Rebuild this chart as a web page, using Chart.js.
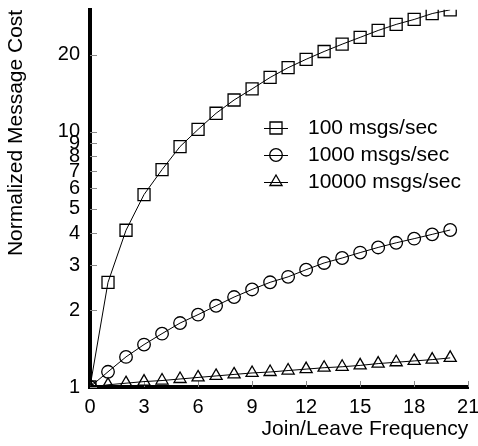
<!DOCTYPE html>
<html>
<head>
<meta charset="utf-8">
<script src="https://cdn.jsdelivr.net/npm/chart.js@4/dist/chart.umd.min.js"></script>
<style>
  html, body { margin: 0; padding: 0; background: #fff; }
  #wrap { width: 478px; height: 446px; }
</style>
</head>
<body>
<div id="wrap"><canvas id="costChart" width="478" height="446"></canvas></div>
<script>
const frequency = [0, 1, 2, 3, 4, 5, 6, 7, 8, 9, 10, 11, 12, 13, 14, 15, 16, 17, 18, 19, 20];
const cost100 = [1, 2.57, 4.11, 5.67, 7.1, 8.74, 10.2, 11.8, 13.3, 14.7, 16.3, 17.8, 19.2, 20.6, 22.0, 23.4, 24.9, 26.3, 27.5, 29.0, 30.0];
const cost1000 = [1, 1.147, 1.312, 1.466, 1.618, 1.78, 1.92, 2.08, 2.25, 2.41, 2.57, 2.70, 2.88, 3.06, 3.20, 3.36, 3.52, 3.67, 3.81, 3.96, 4.12];
const cost10000 = [1, 1.02, 1.035, 1.05, 1.06, 1.075, 1.09, 1.105, 1.12, 1.135, 1.145, 1.16, 1.175, 1.19, 1.2, 1.215, 1.235, 1.25, 1.265, 1.28, 1.3];
const seriesLabels = ["100 msgs/sec", "1000 msgs/sec", "10000 msgs/sec"];
const xTicks = [0, 3, 6, 9, 12, 15, 18, 21];
const yTicks = [1, 2, 3, 4, 5, 6, 7, 8, 9, 10, 20];

const FONT = "'Liberation Sans', Arial, sans-serif";

function pts(values) {
  return frequency.map((f, i) => ({ x: f, y: values[i] }));
}

function series(label, values, style, radius) {
  return {
    label,
    data: pts(values),
    borderColor: "#000",
    borderWidth: 1,
    backgroundColor: "rgba(0,0,0,0)",
    pointStyle: style,
    pointRadius: radius,
    pointBorderWidth: 1.3,
    pointBorderColor: "#000",
    pointBackgroundColor: "rgba(0,0,0,0)",
    tension: 0
  };
}

// inward tick marks like the original plot
const innerTicks = {
  id: "innerTicks",
  beforeDatasetsDraw(chart) {
    const { ctx, chartArea, scales } = chart;
    ctx.save();
    ctx.strokeStyle = "#888";
    ctx.lineWidth = 1;
    ctx.beginPath();
    yTicks.forEach(v => {
      const y = Math.round(scales.y.getPixelForValue(v)) + 0.5;
      ctx.moveTo(chartArea.left, y);
      ctx.lineTo(chartArea.left + 7, y);
    });
    xTicks.forEach(v => {
      const x = Math.round(scales.x.getPixelForValue(v)) + 0.5;
      ctx.moveTo(x, chartArea.bottom);
      ctx.lineTo(x, chartArea.bottom - 6);
    });
    ctx.stroke();
    ctx.restore();
  }
};

// legend drawn inside the plot
const innerLegend = {
  id: "innerLegend",
  afterDraw(chart) {
    const { ctx } = chart;
    ctx.save();
    ctx.font = "21px " + FONT;
    ctx.textBaseline = "middle";
    ctx.textAlign = "left";
    chart.data.datasets.forEach((ds, i) => {
      const y = 128 + i * 27;
      ctx.strokeStyle = "#000";
      ctx.lineWidth = 1;
      ctx.beginPath();
      ctx.moveTo(264, y + 0.5);
      ctx.lineTo(288, y + 0.5);
      ctx.stroke();
      ctx.lineWidth = 1.3;
      ctx.fillStyle = "rgba(0,0,0,0)";
      Chart.helpers.drawPoint(ctx, {
        pointStyle: ds.pointStyle,
        radius: ds.pointRadius,
        rotation: 0,
        borderWidth: 1.3
      }, 276, y);
      ctx.fillStyle = "#000";
      ctx.fillText(ds.label, 308, y);
    });
    ctx.restore();
  }
};

new Chart(document.getElementById("costChart"), {
  type: "line",
  data: {
    datasets: [
      series(seriesLabels[0], cost100, "rect", 8.5),
      series(seriesLabels[1], cost1000, "circle", 6.3),
      series(seriesLabels[2], cost10000, "triangle", 7)
    ]
  },
  options: {
    responsive: false,
    animation: false,
    devicePixelRatio: 1,
    layout: { padding: { top: 7, right: 9, left: 0, bottom: 0 } },
    plugins: {
      legend: { display: false },
      tooltip: { enabled: false }
    },
    scales: {
      x: {
        type: "linear",
        min: 0,
        max: 21,
        afterBuildTicks: s => { s.ticks = xTicks.map(v => ({ value: v })); },
        afterFit: s => { s.height = 59; s.paddingLeft = 0; s.paddingRight = 0; },
        grid: { display: false, drawTicks: false },
        border: { display: true, color: "#000", width: 4 },
        ticks: {
          color: "#000",
          font: { family: FONT, size: 20 },
          padding: 8,
          maxRotation: 0,
          autoSkip: false
        },
        title: {
          display: true,
          text: "Join/Leave Frequency",
          align: "end",
          color: "#000",
          font: { family: FONT, size: 21 },
          padding: { top: 4, bottom: 4 }
        }
      },
      y: {
        type: "logarithmic",
        min: 1,
        max: 30,
        afterBuildTicks: s => { s.ticks = yTicks.map(v => ({ value: v })); },
        afterFit: s => { s.width = 90; s.paddingTop = 0; s.paddingBottom = 0; },
        grid: { display: false, drawTicks: false },
        border: { display: true, color: "#000", width: 4 },
        ticks: {
          color: "#000",
          font: { family: FONT, size: 20 },
          padding: 10,
          autoSkip: false,
          callback: v => String(v)
        },
        title: {
          display: true,
          text: "Normalized Message Cost",
          align: "end",
          color: "#000",
          font: { family: FONT, size: 21 },
          padding: { top: 4, bottom: 4 }
        }
      }
    }
  },
  plugins: [innerTicks, innerLegend]
});
</script>
</body>
</html>
